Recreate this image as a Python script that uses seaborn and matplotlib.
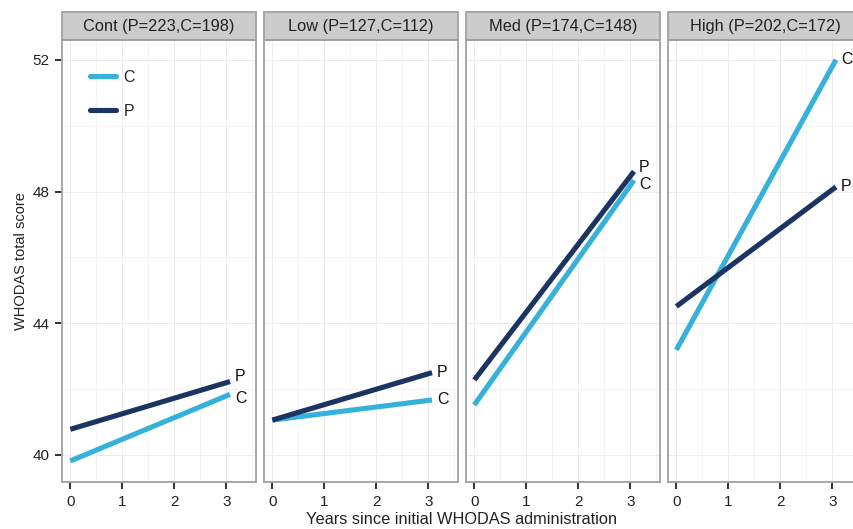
import pandas as pd
import seaborn as sns
import matplotlib.pyplot as plt
from matplotlib.patches import Rectangle
from matplotlib.lines import Line2D
from matplotlib.ticker import MultipleLocator

# data: fitted line ends at year 0 and ~3
panels = ['Cont (P=223,C=198)', 'Low (P=127,C=112)', 'Med (P=174,C=148)', 'High (P=202,C=172)']
years = [0, 3.07]
p_start = [40.78, 41.06, 42.28, 44.51]
p_end = [42.23, 42.50, 48.61, 48.14]
c_start = [39.82, 41.06, 41.52, 43.19]
c_end = [41.84, 41.67, 48.34, 52.00]

rows = []
for i, pan in enumerate(panels):
    for grp, s, e in [('C', c_start[i], c_end[i]), ('P', p_start[i], p_end[i])]:
        rows.append({'panel': pan, 'group': grp, 'year': years[0], 'score': s})
        rows.append({'panel': pan, 'group': grp, 'year': years[1], 'score': e})
df = pd.DataFrame(rows)

palette = {'C': '#36B1DB', 'P': '#1C3462'}

sns.set_theme(style='white')
plt.rcParams['font.family'] = ['Liberation Sans', 'DejaVu Sans']

fig, axes = plt.subplots(1, 4, figsize=(8.54, 5.29), dpi=100, sharey=True)
fig.subplots_adjust(left=62/854, right=862/854, bottom=1-482/529, top=1-40/529, wspace=8/194)

for i, (ax, pan) in enumerate(zip(axes, panels)):
    sub = df[df['panel'] == pan]
    sns.lineplot(data=sub, x='year', y='score', hue='group', palette=palette,
                 linewidth=3.7, ax=ax, legend=False, solid_capstyle='butt')
    ax.set_xlim(-0.16, 3.57)
    ax.set_ylim(39.18, 52.6)
    ax.xaxis.set_major_locator(MultipleLocator(1))
    ax.xaxis.set_minor_locator(MultipleLocator(0.5))
    ax.yaxis.set_major_locator(MultipleLocator(4))
    ax.yaxis.set_minor_locator(MultipleLocator(2))
    ax.grid(which='major', color='#EBEBEB', linewidth=0.7)
    ax.grid(which='minor', color='#F4F4F4', linewidth=0.6)
    ax.set_axisbelow(True)
    for sp in ax.spines.values():
        sp.set_color('#A0A0A0')
        sp.set_linewidth(1.3)
    ax.tick_params(axis='x', which='major', bottom=True, length=5.2, width=1.3, color='#222222',
                   labelsize=11, labelcolor='#222222', pad=4)
    ax.tick_params(axis='y', which='major', left=(i == 0), length=5.2, width=1.3, color='#222222',
                   labelsize=11, labelcolor='#222222', pad=4)
    ax.tick_params(which='minor', length=0)
    ax.set_xlabel('')
    ax.set_ylabel('')
    # strip on top
    ax.add_patch(Rectangle((0, 1), 1, 28/442, transform=ax.transAxes, clip_on=False,
                           facecolor='#CCCCCC', edgecolor='#A0A0A0', linewidth=1.3))
    ax.text(0.5, 1 + 14/442, pan, transform=ax.transAxes, ha='center', va='center',
            fontsize=11.8, color='#222222')
    # end labels
    for grp, val in [('C', c_end[i]), ('P', p_end[i])]:
        off = 0
        if i == 0:
            off = 0.15 if grp == 'P' else -0.12
        if i == 2:
            off = 0.12 if grp == 'P' else -0.12
        ax.text(years[1] + 0.1, val + off, grp, ha='left', va='center', fontsize=11.5, color='#111111')

axes[0].set_ylabel('WHODAS total score', fontsize=10.5, color='#222222', labelpad=3)
fig.text(462/854, 1-519/529, 'Years since initial WHODAS administration', ha='center', va='center',
         fontsize=11.8, color='#222222')

handles = [Line2D([], [], color=palette['C'], linewidth=3.7), Line2D([], [], color=palette['P'], linewidth=3.7)]
axes[0].legend(handles, ['C', 'P'], loc='upper left', bbox_to_anchor=(0.07, 0.965), frameon=False,
               handlelength=1.6, labelspacing=1.2, fontsize=11.5, handletextpad=0.5)

fig.savefig('out.png', dpi=100)
